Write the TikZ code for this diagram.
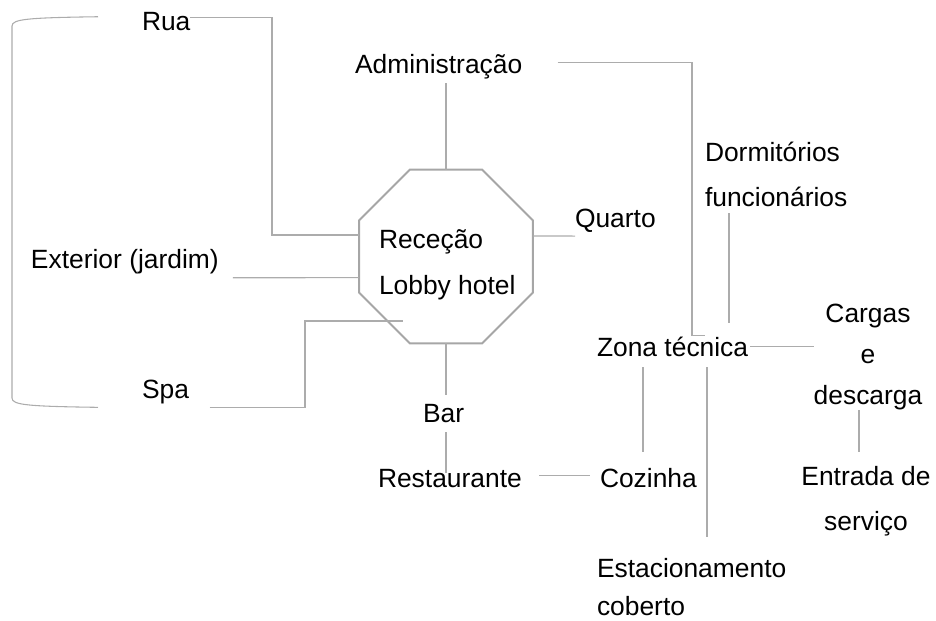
\documentclass[tikz,border=0pt]{standalone}
\usepackage{fontspec}
\setmainfont{Liberation Sans}
\usepackage{tikz}
\usetikzlibrary{shapes.geometric, calc}
\definecolor{hubgray}{RGB}{166,166,166}
\definecolor{linkgray}{RGB}{172,172,172}
\tikzset{
  lbl/.style={inner sep=0pt, outer sep=0pt, font=\fontsize{19.8}{33.75}\selectfont},
  word/.style={lbl, text height=14pt, text depth=4pt},
  hub/.style={regular polygon, regular polygon sides=8, minimum size=141.2pt,
    draw=hubgray, line width=1.5pt, inner sep=0pt, outer sep=0pt},
  link/.style={draw=linkgray, line width=0.8pt}
}

\begin{document}
\begin{tikzpicture}[x=0.75pt, y=-0.75pt]
  \useasboundingbox (0,0) rectangle (936,621);

  % Hotel core
  \node[hub] (lobby) at (446,256.5) {};
  \node[lbl, anchor=base west, align=left, font=\fontsize{19.8}{34.5}\selectfont] (recep) at (379,294) {Receção\\Lobby hotel};

  % Left side
  \node[word, anchor=base west] (rua) at (142,31) {Rua};
  \node[word, anchor=base west] (ext) at (31,268) {Exterior (jardim)};
  \node[word, anchor=base west] (spa) at (142,398) {Spa};

  % Top and right (multi-line labels sit on their last baseline)
  \node[word, anchor=base west] (adm) at (355,73) {Administração};
  \node[word, anchor=base west] (quarto) at (575,227) {Quarto};
  \node[lbl, anchor=base west, align=left] (dorm) at (705,206) {Dormitórios\\funcionários};
  \node[word, anchor=base west] (zona) at (597,356) {Zona técnica};
  \node[lbl, anchor=base, align=center, font=\fontsize{19.8}{31}\selectfont] (cargas) at (868,404.7) {Cargas\\e\\descarga};
  \node[lbl, anchor=base, align=center] (entr) at (866,530) {Entrada de\\serviço};

  % Bottom
  \node[word, anchor=base west] (bar) at (423,422) {Bar};
  \node[word, anchor=base west] (rest) at (378,487.5) {Restaurante};
  \node[word, anchor=base west] (coz) at (600,487.5) {Cozinha};
  \node[lbl, anchor=base west, align=left, font=\fontsize{19.8}{28.5}\selectfont] (estac) at (597,615) {Estacionamento\\coberto};

  % Connectors, left
  \draw[link] ($(rua.east)+(0,-6.5)$) -| ($(lobby.west)+(-87,-21.5)$) -- ($(lobby.west)+(0,-21.5)$);
  \draw[link] ($(rua.west)+(-44,-7.6)$) .. controls +(-70,1) and +(0,-7) .. ($(rua.west)+(-130,1.7)$)
    -- ($(spa.west)+(-130,6.7)$) .. controls +(0,7) and +(-70,-1) .. ($(spa.west)+(-44,16)$);
  \draw[link] ($(ext.east)+(14,16.4)$) -- ($(lobby.west)+(0,21.2)$);
  \draw[link] ($(spa.east)+(20.7,16)$) -| ($(lobby.center)+(-141,64.5)$) -- ($(lobby.center)+(-43,64.5)$);

  % Connectors, top and right
  \draw[link] (lobby.north) -- ($(lobby.north |- adm.south)+(0,4.7)$);
  \draw[link] ($(adm.east)+(35.3,-4.3)$) -| ($(zona.north west)+(95,-2.3)$) -- ($(zona.north west)+(108,-2.3)$);
  \draw[link] ($(lobby.east)+(0,-20.5)$) -- ($(quarto.west)+(0,15.7)$);
  \draw[link] ($(dorm.south west)+(24,7)$) -- ($(zona.north west)+(132,-14.3)$);
  \draw[link] ($(zona.east)+(2,-2.8)$) coordinate (zc) -- (zc -| cargas.west);
  \draw[link] ($(cargas.south)+(-9,0)$) -- ($(entr.north)+(-7,-14)$);

  % Connectors, bottom
  \draw[link] (lobby.south) -- ($(lobby.south |- bar.north)+(0,-8.3)$);
  \draw[link] ($(lobby.south |- bar.south)+(0,4.7)$) -- ($(lobby.south |- rest.north)+(0,4.2)$);
  \draw[link] ($(rest.east)+(17.4,-5.8)$) -- ($(coz.west)+(-10,-5.8)$);
  \draw[link] ($(zona.south west)+(46,5.7)$) -- ($(coz.north west)+(43,-17.3)$);
  \draw[link] ($(zona.south west)+(110,5.7)$) -- ($(estac.north west)+(110,-20.4)$);
\end{tikzpicture}
\end{document}
